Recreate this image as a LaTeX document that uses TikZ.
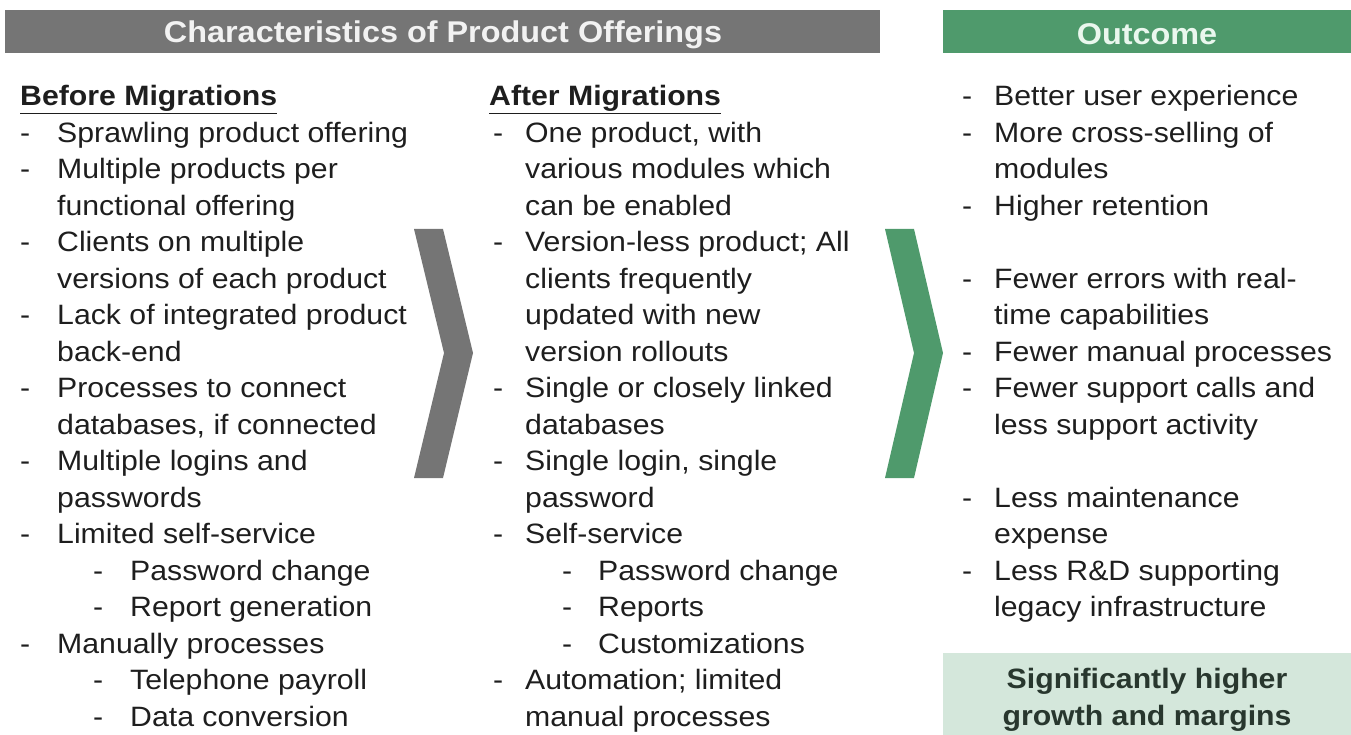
\documentclass[tikz,border=0pt]{standalone}
\usepackage{fontspec}
\setmainfont[FakeStretch=1.08]{Liberation Sans}
\definecolor{hgray}{HTML}{757575}
\definecolor{hgreen}{HTML}{4F9A6C}
\definecolor{lgreen}{HTML}{D4E7DB}
\definecolor{txtc}{HTML}{1E1E1E}
\definecolor{mint}{HTML}{EAF7EE}
\newcommand\dl[5]{\node[txt] (#1d) at (#2,#4) {-}; \node[txt] (#1) at (#3,#4) {#5};}
\begin{document}
\begin{tikzpicture}[x=1pt,y=-1pt,
  txt/.style={anchor=base west, inner sep=0pt, font=\fontsize{28}{28}\selectfont, text=txtc},
  head/.style={inner sep=0pt, font=\fontsize{30}{30}\selectfont\bfseries}]
\useasboundingbox (0,0) rectangle (1351,735);
% header bars
\fill[hgray] (5,10) rectangle (880,53);
\fill[hgreen] (943,10) rectangle (1351,53);
\node[head, text=white!95!black] (h1) at (443,34.5) {Characteristics of Product Offerings};
\node[head, text=mint] (h2) at (1147,34.5) {Outcome};
% chevrons
\fill[hgray] (414,229) -- (443,229) -- (473,353) -- (443,478) -- (414,478) -- (444,353) -- cycle;
\fill[hgreen] (885,229) -- (914,229) -- (943,353) -- (914,478) -- (885,478) -- (914,353) -- cycle;
% bottom box
\fill[lgreen] (943,653) rectangle (1351,735);
\node[head, text=txtc!80!hgreen, align=center, font=\fontsize{28}{36.5}\selectfont\bfseries] (res) at (1147,700) {Significantly higher\\growth and margins};
% column 1
\node[txt] (bh) at (20,106) {\underline{\textbf{Before Migrations}}};
\dl{a1}{20}{57}{142.5}{Sprawling product offering}
\dl{a2}{20}{57}{179}{Multiple products per}
\node[txt] (a2b) at (57,215.4) {functional offering};
\dl{a3}{20}{57}{251.9}{Clients on multiple}
\node[txt] (a3b) at (57,288.4) {versions of each product};
\dl{a4}{20}{57}{324.8}{Lack of integrated product}
\node[txt] (a4b) at (57,361.3) {back-end};
\dl{a5}{20}{57}{397.8}{Processes to connect}
\node[txt] (a5b) at (57,434.2) {databases, if connected};
\dl{a6}{20}{57}{470.7}{Multiple logins and}
\node[txt] (a6b) at (57,507.2) {passwords};
\dl{a7}{20}{57}{543.6}{Limited self-service}
\dl{a8}{93}{130}{580.1}{Password change}
\dl{a9}{93}{130}{616.6}{Report generation}
\dl{a10}{20}{57}{653.1}{Manually processes}
\dl{a11}{93}{130}{689.5}{Telephone payroll}
\dl{a12}{93}{130}{726}{Data conversion}
% column 2
\node[txt] (ah) at (489,106) {\underline{\textbf{After Migrations}}};
\dl{b1}{493}{525}{142.5}{One product, with}
\node[txt] (b1b) at (525,179) {various modules which};
\node[txt] (b1c) at (525,215.4) {can be enabled};
\dl{b2}{493}{525}{251.9}{Version-less product; All}
\node[txt] (b2b) at (525,288.4) {clients frequently};
\node[txt] (b2c) at (525,324.8) {updated with new};
\node[txt] (b2d) at (525,361.3) {version rollouts};
\dl{b3}{493}{525}{397.8}{Single or closely linked}
\node[txt] (b3b) at (525,434.2) {databases};
\dl{b4}{493}{525}{470.7}{Single login, single}
\node[txt] (b4b) at (525,507.2) {password};
\dl{b5}{493}{525}{543.6}{Self-service}
\dl{b6}{562}{598}{580.1}{Password change}
\dl{b7}{562}{598}{616.6}{Reports}
\dl{b8}{562}{598}{653.1}{Customizations}
\dl{b9}{493}{525}{689.5}{Automation; limited}
\node[txt] (b9b) at (525,726) {manual processes};
% column 3
\dl{c1}{962}{994}{106}{Better user experience}
\dl{c2}{962}{994}{142.5}{More cross-selling of}
\node[txt] (c2b) at (994,179) {modules};
\dl{c3}{962}{994}{215.4}{Higher retention}
\dl{c4}{962}{994}{288.4}{Fewer errors with real-}
\node[txt] (c4b) at (994,324.8) {time capabilities};
\dl{c5}{962}{994}{361.3}{Fewer manual processes}
\dl{c6}{962}{994}{397.8}{Fewer support calls and}
\node[txt] (c6b) at (994,434.2) {less support activity};
\dl{c7}{962}{994}{507.2}{Less maintenance}
\node[txt] (c7b) at (994,543.6) {expense};
\dl{c8}{962}{994}{580.1}{Less R\&D supporting}
\node[txt] (c8b) at (994,616.6) {legacy infrastructure};
\end{tikzpicture}
\end{document}
